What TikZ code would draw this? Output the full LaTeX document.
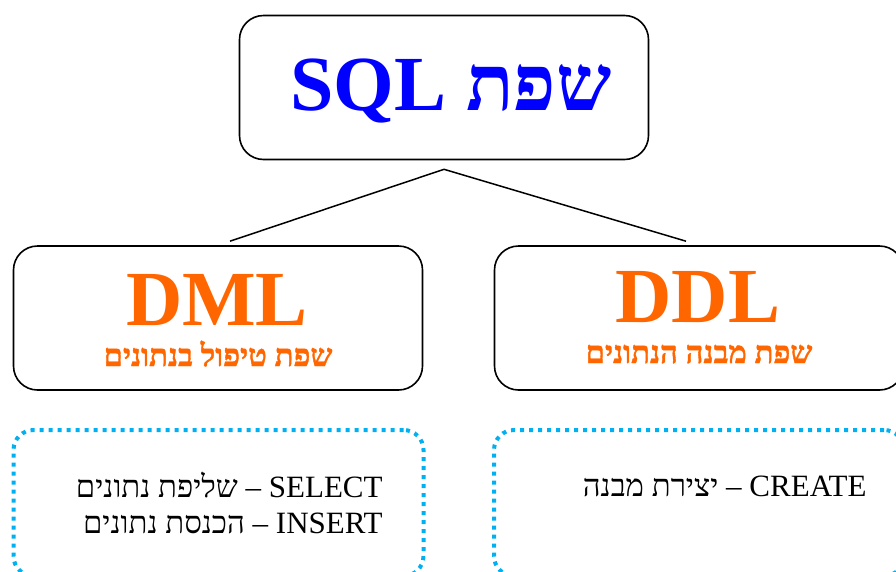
\documentclass[tikz,border=0pt]{standalone}
\usepackage{fontspec}
\setmainfont{Liberation Serif}
\newfontfamily\hebfont[Script=Hebrew]{Liberation Serif}
\newfontfamily\hebheavy[Script=Hebrew, BoldFeatures={FakeBold=1.2}]{Liberation Serif}
\TeXXeTstate=1
\definecolor{sqlblue}{HTML}{0000FF}
\definecolor{langorange}{HTML}{FF6600}
\definecolor{dotcyan}{HTML}{00B0F0}

\begin{document}
\begin{tikzpicture}[x=1pt, y=-1pt, thick,
  box/.style = {draw, rounded corners=24pt, line width=1.6pt, minimum width=409pt, minimum height=144pt, inner sep=0pt},
  listbox/.style = {draw=dotcyan, rounded corners=20pt, line width=4pt, dash pattern=on 4pt off 5pt, minimum width=410pt, minimum height=146pt, inner sep=0pt},
  big/.style = {font=\hebfont\fontsize{78}{80}\selectfont\bfseries, anchor=base, inner sep=0pt},
  sub/.style = {font=\hebheavy\fontsize{31}{34}\selectfont\bfseries, text=langorange, anchor=base, inner sep=0pt},
  item/.style = {font=\hebfont\fontsize{31}{36}\selectfont, anchor=base east, inner sep=0pt}]
\useasboundingbox (0,0) rectangle (896,571);
\clip (0,0) rectangle (896,571);
% boxes
\node[box] (sql) at (444,87.5) {};
\node[box] (dml) at (218,318) {};
\node[box] (ddl) at (699,318) {};
\node[listbox] (dmllist) at (218.5,503) {};
\node[listbox] (ddllist) at (699,503) {};
% texts
\node[big, text=sqlblue] (sqltext) at (451,110) {\beginR שפת \beginL SQL\endL\endR};
\node[big, text=langorange] (dmltext) at (217,325) {DML};
\node[sub] (dmlsub) at (218,366) {\beginR שפת טיפול בנתונים\endR};
\node[big, text=langorange] (ddltext) at (698,322) {DDL};
\node[sub] (ddlsub) at (699,363) {\beginR שפת מבנה הנתונים\endR};
\node[item] (select) at (383,497) {\beginR\beginL SELECT\endL{} – שליפת נתונים\endR};
\node[item] (insert) at (383,533) {\beginR\beginL INSERT\endL{} – הכנסת נתונים\endR};
\node[item] (create) at (867,496) {\beginR\beginL CREATE\endL{} – יצירת מבנה\endR};
% connectors
\coordinate (apex) at ([yshift=-9pt]sql.south);
\coordinate (dmltop) at ([xshift=12pt, yshift=4pt]dml.north);
\coordinate (ddltop) at ([xshift=-13pt, yshift=4pt]ddl.north);
\draw[line width=1.5pt] (dmltop) -- (apex) -- (ddltop);
\end{tikzpicture}
\end{document}
